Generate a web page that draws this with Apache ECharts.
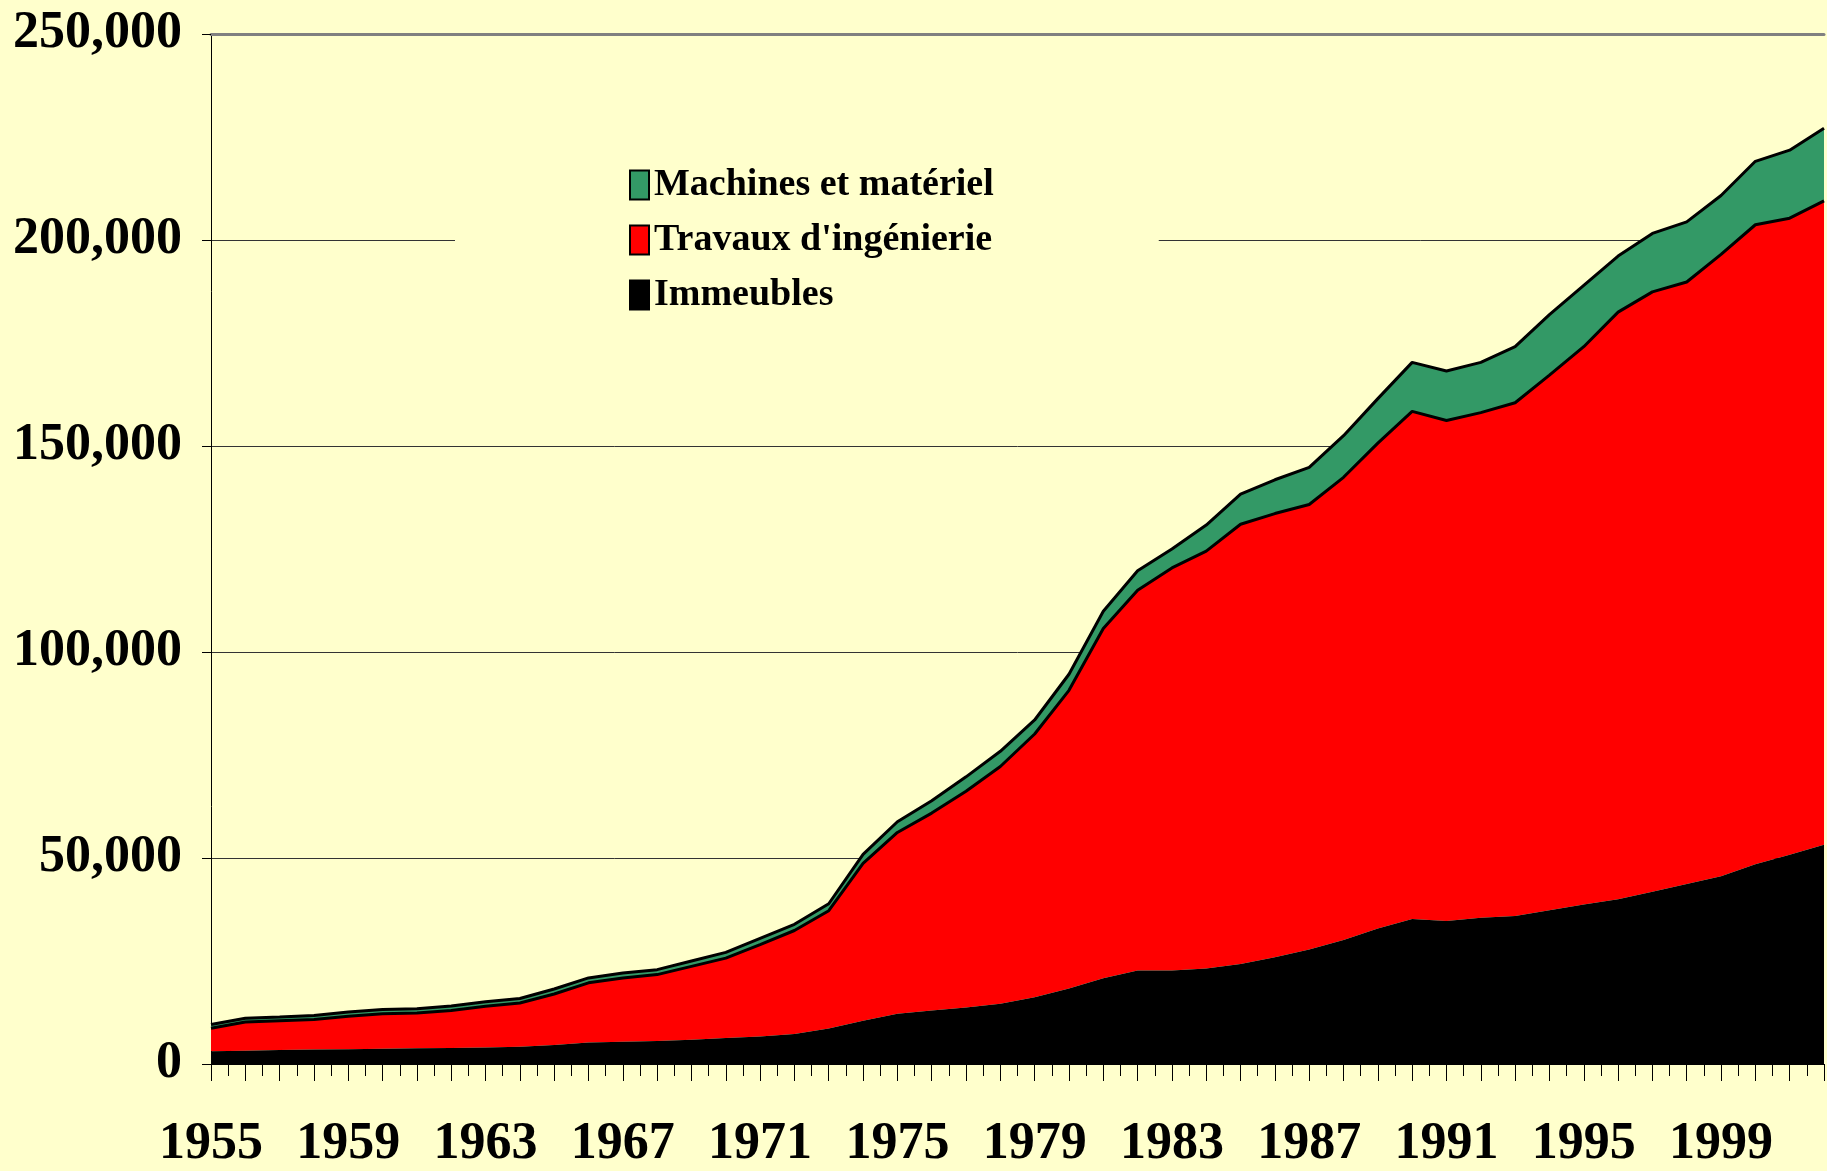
<!DOCTYPE html>
<html>
<head>
<meta charset="utf-8">
<title>Investissement</title>
<script src="https://cdn.jsdelivr.net/npm/echarts@6/dist/echarts.min.js"></script>
<style>
  html, body { margin: 0; padding: 0; background: #ffffcc; }
  #chart { width: 1827px; height: 1171px; }
</style>
</head>
<body>
<div id="chart"></div>
<script>
var years = ['1955', '1956', '1957', '1958', '1959', '1960', '1961', '1962', '1963', '1964',
  '1965', '1966', '1967', '1968', '1969', '1970', '1971', '1972', '1973', '1974',
  '1975', '1976', '1977', '1978', '1979', '1980', '1981', '1982', '1983', '1984',
  '1985', '1986', '1987', '1988', '1989', '1990', '1991', '1992', '1993', '1994',
  '1995', '1996', '1997', '1998', '1999', '2000', '2001', '2002'];
var yearLabels = [1955, 1959, 1963, 1967, 1971, 1975, 1979, 1983, 1987, 1991, 1995, 1999];

// Immeubles (bas de la pile)
var immeubles = [3100, 3200, 3400, 3500, 3600, 3700, 3800, 3900, 4000, 4200,
  4600, 5200, 5400, 5600, 5900, 6300, 6700, 7300, 8600, 10500,
  12200, 13000, 13700, 14600, 16200, 18300, 20800, 22700, 22700, 23200,
  24300, 25900, 27800, 30100, 32900, 35200, 34700, 35500, 35900, 37300,
  38700, 40000, 41800, 43700, 45600, 48500, 50800, 53200];
// Travaux d'ingenierie
var travaux = [5600, 7000, 7100, 7300, 8000, 8500, 8600, 9100, 10000, 10600,
  12400, 14500, 15500, 16100, 17800, 19400, 22300, 25100, 28600, 38200,
  44000, 47900, 52500, 57600, 63900, 72400, 84900, 92300, 97700, 101300,
  106700, 107700, 108000, 112300, 117800, 123200, 121500, 122600, 124600, 129900,
  135400, 142500, 145600, 146100, 150900, 155200, 154500, 156300];
// Machines et materiel (haut de la pile)
var machines = [900, 900, 900, 1000, 1000, 1000, 1000, 1100, 1100, 1100,
  1200, 1200, 1200, 1200, 1300, 1400, 1500, 1500, 1700, 2200,
  2600, 3000, 3500, 3700, 3400, 3900, 4200, 4700, 4600, 6300,
  7300, 8200, 9000, 10100, 10800, 11900, 12000, 12200, 13600, 14700,
  14900, 13600, 14200, 14600, 14300, 15400, 16500, 17600];

var font = 'Liberation Serif';

function thousands(v) {
  return String(v).replace(/\B(?=(\d{3})+(?!\d))/g, ',');
}

var chart = echarts.init(document.getElementById('chart'));
chart.setOption({
  backgroundColor: '#ffffcc',
  animation: false,
  grid: { left: 211, right: 0, top: 34, bottom: 105 },
  legend: {
    orient: 'vertical',
    left: 455,
    top: 152,
    padding: [14, 165, 14, 174],
    backgroundColor: '#ffffcc',
    icon: 'rect',
    itemWidth: 19,
    itemHeight: 29,
    itemGap: 17,
    itemStyle: { borderColor: '#000', borderWidth: 2 },
    textStyle: { fontFamily: font, fontWeight: 'bold', fontSize: 38, color: '#000' },
    data: ['Machines et matériel', "Travaux d'ingénierie", 'Immeubles'],
    z: 10
  },
  xAxis: [{
    // axe des categories qui porte les aires
    type: 'category',
    data: years,
    boundaryGap: false,
    position: 'bottom',
    axisLine: { show: true, lineStyle: { color: '#000', width: 1 } },
    axisTick: { show: false },
    axisLabel: { show: false },
    splitLine: { show: false }
  }, {
    // graduations annuelles et demi-annees
    type: 'value',
    position: 'bottom',
    min: 1955,
    max: 2002,
    interval: 1,
    axisLine: { show: false },
    axisTick: { length: 17, lineStyle: { color: '#000' } },
    minorTick: { show: true, splitNumber: 2, length: 12, lineStyle: { color: '#000' } },
    splitLine: { show: false },
    axisLabel: {
      margin: 55,
      fontFamily: font,
      fontWeight: 'bold',
      fontSize: 52,
      color: '#000',
      formatter: function(v) {
        return yearLabels.indexOf(v) >= 0 ? String(v) : '';
      }
    }
  }, {
    type: 'value',
    position: 'top',
    min: 1955,
    max: 2002,
    axisLine: { show: true, lineStyle: { color: '#808080', width: 3 } },
    axisTick: { show: false },
    axisLabel: { show: false },
    splitLine: { show: false }
  }],
  yAxis: {
    type: 'value',
    min: 0,
    max: 250000,
    interval: 50000,
    axisLine: { show: true, lineStyle: { color: '#000' } },
    axisTick: { show: true, length: 9, lineStyle: { color: '#000' } },
    splitLine: { lineStyle: { color: '#333', width: 1 } },
    axisLabel: {
      margin: 29,
      fontFamily: font,
      fontWeight: 'bold',
      fontSize: 52,
      color: '#000',
      formatter: thousands
    }
  },
  series: [{
    name: 'Immeubles',
    type: 'line',
    stack: 'total',
    z: 4,
    symbol: 'none',
    silent: true,
    data: immeubles,
    lineStyle: { width: 0 },
    itemStyle: { color: '#000000' },
    areaStyle: { color: '#000000', opacity: 1 }
  }, {
    name: "Travaux d'ingénierie",
    type: 'line',
    stack: 'total',
    z: 3,
    symbol: 'none',
    silent: true,
    data: travaux,
    lineStyle: { color: '#000', width: 3 },
    itemStyle: { color: '#ff0000' },
    areaStyle: { color: '#ff0000', opacity: 1 }
  }, {
    name: 'Machines et matériel',
    type: 'line',
    stack: 'total',
    z: 2,
    symbol: 'none',
    silent: true,
    data: machines,
    lineStyle: { color: '#000', width: 3 },
    itemStyle: { color: '#339966' },
    areaStyle: { color: '#339966', opacity: 1 }
  }]
});
</script>
</body>
</html>
